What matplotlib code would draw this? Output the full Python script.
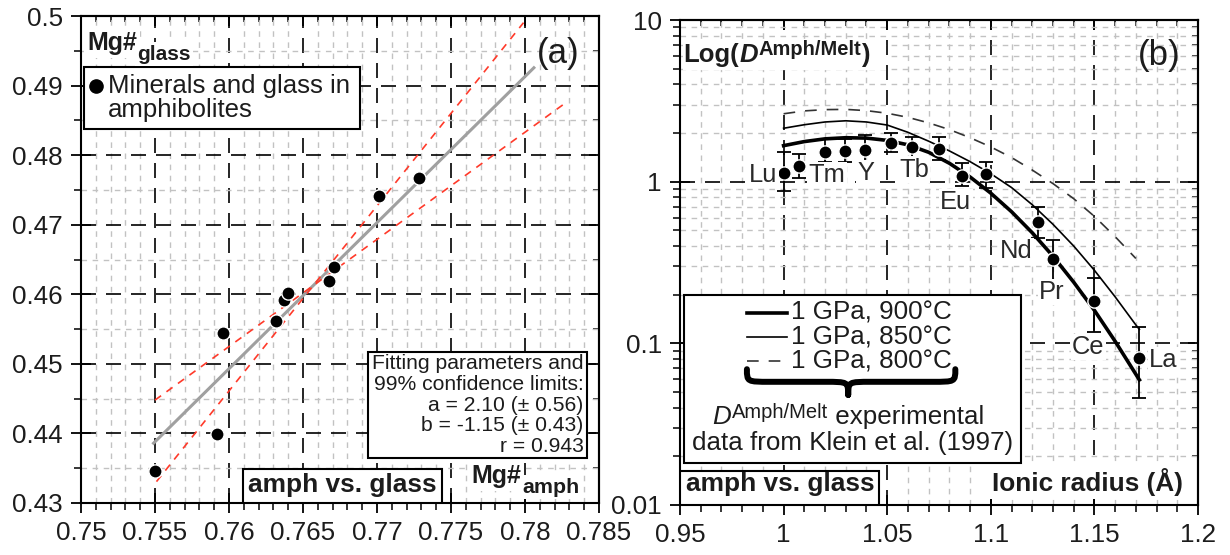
import numpy as np
import matplotlib
matplotlib.use("Agg")
import matplotlib.pyplot as plt
from matplotlib import font_manager as fm
from matplotlib.ticker import (MultipleLocator, FixedLocator, LogLocator,
                               FuncFormatter, NullFormatter)
from matplotlib.patches import Rectangle, PathPatch
from matplotlib.path import Path

# ---------------- Panel (a) data ----------------
mg_amph = [0.7550, 0.75917, 0.75957, 0.76320, 0.76374, 0.76397, 0.76674, 0.76711, 0.77016, 0.77281]
mg_glass = [0.4346, 0.43987, 0.45447, 0.45619, 0.45917, 0.46022, 0.46194, 0.46386, 0.47411, 0.47674]
fit_a = 2.10
fit_b = -1.1467
fit_a_conf = 0.56
fit_pivot = 0.7657
fit_x = [0.7549, 0.7806]
conf_steep_x = [0.7551, 0.7799]
conf_shallow_x = [0.7550, 0.7826]
fit_lines = ["Fitting parameters and", "99% confidence limits:",
             "a = 2.10 (\u00b1 0.56)", "b = -1.15 (\u00b1 0.43)", "r = 0.943"]
xticks_a = [0.75, 0.755, 0.76, 0.765, 0.77, 0.775, 0.78, 0.785]
yticks_a = [0.43, 0.44, 0.45, 0.46, 0.47, 0.48, 0.49, 0.5]

# ---------------- Panel (b) data ----------------
ree_labels = ["Lu", "", "Tm", "", "Y", "", "Tb", "", "Eu", "", "Nd", "Pr", "Ce", "La"]
ionic_radius = [1.000, 1.0074, 1.020, 1.0297, 1.0393, 1.0518, 1.0621, 1.0748,
                1.086, 1.0975, 1.1226, 1.1299, 1.150, 1.1717]
d_amph = [1.13, 1.25, 1.53, 1.55, 1.56, 1.74, 1.65, 1.60, 1.08, 1.12, 0.561, 0.332, 0.183, 0.081]
d_low = [0.87, 1.05, 1.33, 1.33, 1.35, 1.53, 1.38, 1.36, 0.94, 0.92, 0.446, 0.246, 0.117, 0.0458]
d_high = [1.53, 1.48, 1.83, 1.83, 1.95, 2.00, 1.88, 1.88, 1.31, 1.33, 0.694, 0.436, 0.253, 0.127]

r_900 = [1.00, 1.01, 1.02, 1.03, 1.04, 1.05, 1.06, 1.07, 1.08, 1.09,
         1.10, 1.11, 1.12, 1.13, 1.14, 1.15, 1.16, 1.17, 1.1717]
d_900 = [1.67, 1.77, 1.84, 1.87, 1.86, 1.80, 1.69, 1.52, 1.30, 1.069,
         0.849, 0.652, 0.483, 0.346, 0.239, 0.160, 0.103, 0.0644, 0.0594]
r_850 = [1.00, 1.01, 1.02, 1.03, 1.04, 1.05, 1.06, 1.07, 1.08, 1.09,
         1.10, 1.11, 1.12, 1.13, 1.14, 1.15, 1.16, 1.17, 1.1717]
d_850 = [2.14, 2.25, 2.34, 2.38, 2.34, 2.24, 2.02, 1.78, 1.55, 1.33,
         1.12, 0.92, 0.72, 0.545, 0.40, 0.283, 0.194, 0.130, 0.122]
r_800 = [1.00, 1.01, 1.02, 1.03, 1.04, 1.05, 1.06, 1.07, 1.08, 1.09,
         1.10, 1.11, 1.12, 1.13, 1.14, 1.15, 1.16, 1.17]
d_800 = [2.63, 2.74, 2.79, 2.80, 2.75, 2.65, 2.50, 2.31, 2.10, 1.87,
         1.64, 1.41, 1.18, 0.973, 0.785, 0.610, 0.457, 0.335]
legend_b = ["1 GPa, 900\u00b0C", "1 GPa, 850\u00b0C", "1 GPa, 800\u00b0C"]
xticks_b = [0.95, 1.0, 1.05, 1.1, 1.15, 1.2]
yticks_b = [0.01, 0.1, 1, 10]

# ---------------- fonts ----------------
names = {f.name for f in fm.fontManager.ttflist}
if "Liberation Sans Narrow" in names:
    FAM, K = "Liberation Sans Narrow", 1.19
else:
    FAM, K = "Liberation Sans", 1.0
plt.rcParams["font.family"] = [FAM, "DejaVu Sans"]
TXT = "#1c1c1c"


def fs(v):
    return v * K


W, H = 1230.0, 555.0


def frame(l, t, r, b):
    return [l / W, 1 - b / H, (r - l) / W, (b - t) / H]


fig = plt.figure(figsize=(12.3, 5.55), dpi=100)
axA = fig.add_axes(frame(81, 16, 599, 503))
axB = fig.add_axes(frame(680, 20, 1198, 505))
fmt_g = FuncFormatter(lambda v, p: f"{v:g}")
WHITE = dict(boxstyle="square,pad=0.12", fc="white", ec="none")


def base_style(ax):
    ax.set_axisbelow(True)
    ax.grid(which="major", color="black", linewidth=1.2, linestyle=(0, (9, 6)))
    ax.grid(which="minor", color="#c2c2c2", linewidth=1.0, linestyle=(0, (4, 4)))
    ax.tick_params(which="major", direction="inout", length=14, width=1.3, pad=6,
                   labelsize=fs(18.7), labelcolor=TXT)
    ax.tick_params(which="minor", direction="out", length=5, width=1.1)
    for s in ax.spines.values():
        s.set_linewidth(1.5)


def inner_ticks(ax, xmaj, xmin_loc, ymaj, ymin_loc):
    sx = ax.secondary_xaxis("top")
    sx.xaxis.set_major_locator(FixedLocator(xmaj))
    sx.xaxis.set_minor_locator(xmin_loc)
    sx.xaxis.set_major_formatter(NullFormatter())
    sx.xaxis.set_minor_formatter(NullFormatter())
    sx.tick_params(which="major", direction="in", length=7, width=1.3)
    sx.tick_params(which="minor", direction="in", length=4.5, width=1.1)
    sy = ax.secondary_yaxis("right")
    sy.yaxis.set_major_locator(FixedLocator(ymaj))
    sy.yaxis.set_minor_locator(ymin_loc)
    sy.yaxis.set_major_formatter(NullFormatter())
    sy.yaxis.set_minor_formatter(NullFormatter())
    sy.tick_params(which="major", direction="in", length=7, width=1.3)
    sy.tick_params(which="minor", direction="in", length=4.5, width=1.1)
    for s in list(sx.spines.values()) + list(sy.spines.values()):
        s.set_linewidth(1.5)


# ======================= Panel (a) =======================
base_style(axA)
axA.set_xlim(0.75, 0.785)
axA.set_ylim(0.43, 0.5)
axA.xaxis.set_major_locator(FixedLocator(xticks_a))
axA.yaxis.set_major_locator(FixedLocator(yticks_a))
axA.xaxis.set_minor_locator(MultipleLocator(0.001))
axA.yaxis.set_minor_locator(MultipleLocator(0.005))
axA.xaxis.set_major_formatter(fmt_g)
axA.yaxis.set_major_formatter(fmt_g)
inner_ticks(axA, xticks_a, MultipleLocator(0.001), yticks_a, MultipleLocator(0.005))

fx = np.array(fit_x)
axA.plot(fx, fit_a * fx + fit_b, color="#a0a0a0", lw=2.2, zorder=3)
y_piv = fit_a * fit_pivot + fit_b
for xr, slope in ((conf_steep_x, fit_a + fit_a_conf), (conf_shallow_x, fit_a - fit_a_conf)):
    cx = np.array(xr)
    axA.plot(cx, y_piv + slope * (cx - fit_pivot), color="#ff3a2a", lw=1.2,
             linestyle=(0, (4.5, 4)), zorder=3)
axA.plot(mg_amph, mg_glass, "o", ms=9.5, mfc="black", mec="white", mew=1.0,
         ls="none", zorder=5)

tA = axA.transAxes
# Mg#glass
t_mg = axA.text(0.0114, 0.930, "Mg#", transform=tA, ha="left", va="baseline",
                fontsize=fs(18), weight="bold", color=TXT, zorder=7, bbox=WHITE)
axA.annotate("glass", xy=(1, 0), xycoords=t_mg, xytext=(0.5, -3.5),
             textcoords="offset points", ha="left", va="baseline",
             fontsize=fs(15), weight="bold", color=TXT, zorder=7, bbox=WHITE)
# legend box
axA.add_patch(Rectangle((0.006, 0.7673), 0.532, 0.1287, transform=tA, fc="white",
                        ec="black", lw=1.5, zorder=6))
axA.plot([0.028], [0.856], "o", ms=9.5, color="black", transform=tA, zorder=7,
         clip_on=False)
axA.text(0.0525, 0.856, "Minerals and glass in", transform=tA, ha="left", va="center",
         fontsize=fs(18.5), color=TXT, zorder=7)
axA.text(0.0525, 0.807, "amphibolites", transform=tA, ha="left", va="center",
         fontsize=fs(18.5), color=TXT, zorder=7)
# (a)
axA.text(0.922, 0.9235, "(a)", transform=tA, ha="center", va="center",
         fontsize=fs(25), color=TXT, zorder=7)
# fitting box
axA.add_patch(Rectangle((0.5542, 0.0922), 0.4224, 0.2187, transform=tA, fc="white",
                        ec="black", lw=1.5, zorder=6))
for i, s in enumerate(fit_lines):
    axA.text(0.970, 0.2862 - i * 0.0425, s, transform=tA, ha="right", va="center",
             fontsize=fs(15.2), color=TXT, zorder=7)
# amph vs. glass
axA.add_patch(Rectangle((0.3118, 0.0), 0.3842, 0.0698, transform=tA, fc="white",
                        ec="black", lw=1.5, zorder=6))
axA.text(0.5037, 0.0376, "amph vs. glass", transform=tA, ha="center", va="center",
         fontsize=fs(18.9), weight="bold", color=TXT, zorder=7)
# Mg#amph
t_mg2 = axA.text(0.754, 0.041, "Mg#", transform=tA, ha="left", va="baseline",
                 fontsize=fs(18), weight="bold", color=TXT, zorder=7, bbox=WHITE)
axA.annotate("amph", xy=(1, 0), xycoords=t_mg2, xytext=(0.5, -3.5),
             textcoords="offset points", ha="left", va="baseline",
             fontsize=fs(15.4), weight="bold", color=TXT, zorder=7, bbox=WHITE)

# ======================= Panel (b) =======================
base_style(axB)
axB.set_yscale("log")
axB.set_xlim(0.95, 1.2)
axB.set_ylim(0.01, 10)
axB.xaxis.set_major_locator(FixedLocator(xticks_b))
axB.xaxis.set_minor_locator(MultipleLocator(0.01))
axB.yaxis.set_major_locator(FixedLocator(yticks_b))
axB.yaxis.set_minor_locator(LogLocator(base=10, subs=np.arange(2, 10)))
axB.yaxis.set_minor_formatter(NullFormatter())
axB.xaxis.set_major_formatter(fmt_g)
axB.yaxis.set_major_formatter(fmt_g)
inner_ticks(axB, xticks_b, MultipleLocator(0.01), yticks_b,
            LogLocator(base=10, subs=np.arange(2, 10)))

st900 = dict(color="black", lw=2.6)
st850 = dict(color="black", lw=1.2)
st800 = dict(color="#333333", lw=1.2, linestyle=(0, (7, 6)))
axB.plot(r_900, d_900, zorder=3, **st900)
axB.plot(r_850, d_850, zorder=3, **st850)
axB.plot(r_800, d_800, zorder=3, **st800)

r = np.array(ionic_radius)
d = np.array(d_amph)
axB.errorbar(r, d, yerr=[d - np.array(d_low), np.array(d_high) - d], fmt="none",
             ecolor="black", elinewidth=1.3, capsize=5, capthick=1.3, zorder=4)
axB.plot(r, d, "o", ms=9.5, mfc="black", mec="white", mew=1.0, ls="none", zorder=5)

label_place = {"Lu": (-6, -2, "right"), "Tm": (2, -23, "center"), "Y": (1, -23, "center"),
               "Tb": (2, -23, "center"), "Eu": (-6, -26, "center"), "Nd": (-21, -29, "center"),
               "Pr": (-1, -33, "center"), "Ce": (-6, -46, "center"), "La": (10, -2, "left")}
for xi, yi, lab in zip(r, d, ree_labels):
    if not lab:
        continue
    dx, dy, ha = label_place[lab]
    axB.annotate(lab, xy=(xi, yi), xytext=(dx, dy), textcoords="offset pixels",
                 ha=ha, va="center", fontsize=fs(18.4), color="#2a2a2a", zorder=6,
                 bbox=dict(boxstyle="square,pad=0.05", fc="white", ec="none"))

tB = axB.transAxes
# Log(D^Amph/Melt)
axB.add_patch(Rectangle((0.006, 0.897), 0.392, 0.062, transform=tB, fc="white",
                        ec="none", zorder=1.5))
t1 = axB.text(0.007, 0.913, "Log(", transform=tB, ha="left", va="baseline",
              fontsize=fs(18.5), weight="bold", color=TXT, zorder=7)
t2 = axB.annotate("D", xy=(1, 0), xycoords=t1, ha="left", va="bottom",
                  fontsize=fs(18.5), weight="bold", style="italic", color=TXT, zorder=7)
t3 = axB.annotate("Amph/Melt", xy=(1, 1), xycoords=t2, xytext=(0.5, 2),
                  textcoords="offset points", ha="left", va="top",
                  fontsize=fs(14.5), weight="bold", color=TXT, zorder=7)
axB.annotate(")", xy=(1, 0), xycoords=(t3, t1), ha="left", va="bottom",
             fontsize=fs(18.5), weight="bold", color=TXT, zorder=7)
# (b)
axB.text(0.925, 0.927, "(b)", transform=tB, ha="center", va="center",
         fontsize=fs(25), color=TXT, zorder=7)

# legend box
axB.add_patch(Rectangle((0.0073, 0.086), 0.651, 0.3474, transform=tB, fc="white",
                        ec="black", lw=1.5, zorder=6))
for s, st, yy in zip(legend_b, (st900, st850, st800), (0.3963, 0.3454, 0.2959)):
    axB.plot([0.129, 0.2066], [yy, yy], transform=tB, zorder=7, clip_on=False, **st)
    axB.text(0.2141, yy, s, transform=tB, ha="left", va="center",
             fontsize=fs(18.7), color=TXT, zorder=7)
# brace
x0, x1, xc = 0.1292, 0.5315, 0.3247
yt, ym, yb, rr = 0.2800, 0.2540, 0.2270, 0.045
verts = [(x0, yt), (x0, ym), (x0, ym), (x0 + rr, ym), (xc - rr, ym),
         (xc, ym), (xc, ym), (xc, yb),
         (xc, ym), (xc, ym), (xc + rr, ym), (x1 - rr, ym),
         (x1, ym), (x1, ym), (x1, yt)]
codes = [Path.MOVETO, Path.CURVE4, Path.CURVE4, Path.CURVE4, Path.LINETO,
         Path.CURVE4, Path.CURVE4, Path.CURVE4,
         Path.CURVE4, Path.CURVE4, Path.CURVE4, Path.LINETO,
         Path.CURVE4, Path.CURVE4, Path.CURVE4]
axB.add_patch(PathPatch(Path(verts, codes), transform=tB, fc="none", ec="black",
                        lw=4.3, capstyle="round", joinstyle="round", zorder=7))
# D^Amph/Melt experimental
e1 = axB.text(0.0627, 0.166, "D", transform=tB, ha="left", va="baseline",
              fontsize=fs(18.7), style="italic", color=TXT, zorder=7)
e2 = axB.annotate("Amph/Melt", xy=(1, 1), xycoords=e1, xytext=(0.5, 2),
                  textcoords="offset points", ha="left", va="top",
                  fontsize=fs(14.5), color=TXT, zorder=7)
axB.annotate(" experimental", xy=(1, 0), xycoords=(e2, e1), ha="left", va="bottom",
             fontsize=fs(18.7), color=TXT, zorder=7)
axB.text(0.334, 0.1287, "data from Klein et al. (1997)", transform=tB, ha="center",
         va="center", fontsize=fs(18.7), color=TXT, zorder=7)
# amph vs. glass
axB.add_patch(Rectangle((0.0, 0.0), 0.3838, 0.0697, transform=tB, fc="white",
                        ec="black", lw=1.5, zorder=6))
axB.text(0.1937, 0.0439, "amph vs. glass", transform=tB, ha="center", va="center",
         fontsize=fs(18.9), weight="bold", color=TXT, zorder=7)
# Ionic radius
axB.text(0.786, 0.0474, "Ionic radius (\u00c5)", transform=tB, ha="center", va="center",
         fontsize=fs(18.9), weight="bold", color=TXT, zorder=7, bbox=WHITE)

fig.savefig("out.png", dpi=100)
